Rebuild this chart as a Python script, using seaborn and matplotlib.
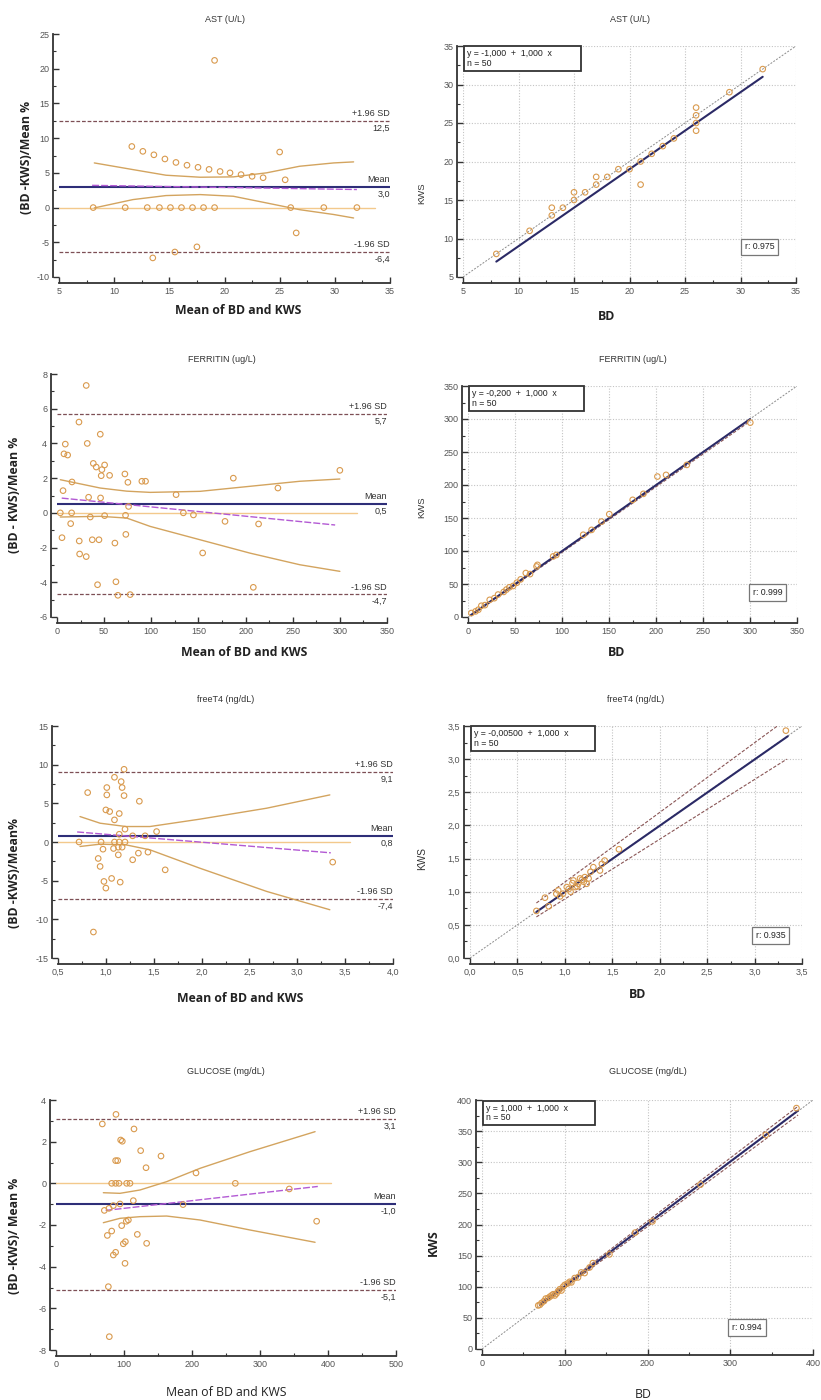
import matplotlib
matplotlib.use("Agg")
import matplotlib.pyplot as plt
import matplotlib.transforms as mtransforms
import seaborn as sns
from matplotlib.ticker import MultipleLocator, AutoMinorLocator, FuncFormatter

W, H = 821, 1400

# ---------------- AST ----------------
ast_ba_mean = [19.1, 11.6, 12.6, 13.6, 14.6, 15.6, 16.6, 17.6, 18.6, 19.6, 20.5, 21.5, 22.5, 23.5, 25.0, 25.5,
               8.1, 11.0, 13.0, 14.1, 15.1, 16.1, 17.1, 18.1, 19.1, 26.0, 29.0, 32.0,
               26.5, 17.5, 13.5, 15.5]
ast_ba_diff = [21.2, 8.8, 8.1, 7.6, 7.0, 6.5, 6.1, 5.8, 5.5, 5.2, 5.0, 4.75, 4.5, 4.3, 8.0, 4.0,
               0, 0, 0, 0, 0, 0, 0, 0, 0, 0, 0, 0,
               -3.65, -5.66, -7.25, -6.4]
ast_limits = [12.5, 3.0, -6.4]
ast_band_x = [8.2, 11.7, 14.7, 17.8, 20.8, 23.8, 26.8, 29.9, 31.7]
ast_band_hi = [6.43, 5.47, 4.66, 4.37, 4.42, 5.0, 5.95, 6.43, 6.58]
ast_band_lo = [-0.05, 1.15, 1.73, 1.87, 1.63, 0.67, -0.3, -1.0, -1.5]
ast_trend_x = [8.0, 32.0]
ast_trend_y = [3.2, 2.6]
ast_bd = [8, 11, 13, 13, 14, 15, 15, 16, 17, 17, 18, 19, 20, 21, 21, 22, 23, 24, 26, 26, 26, 26, 29, 32]
ast_kws = [8, 11, 14, 13, 14, 16, 15, 16, 18, 17, 18, 19, 19, 20, 17, 21, 22, 23, 27, 26, 25, 24, 29, 32]
ast_fit_x = [8, 32]
ast_fit_y = [7, 31]

# ---------------- FERRITIN ----------------
fer_ba_mean = [31, 23.3, 32.1, 45.9, 8.8, 7.4, 11.3, 38.5, 41.6, 50.5, 47.6, 46.9, 55.8, 72, 75.2,
               90, 93.9, 15.9, 6.4, 33.5, 46.2, 75.9, 126.3, 187, 234.3, 300, 3.5, 15.5, 35.3, 50.5,
               72.7, 134, 144.7, 178.2, 213.8, 14.5, 5.3, 23.6, 37.4, 44.5, 61.4, 73, 24, 31, 154.5,
               43, 62.5, 64.6, 77.6, 208.2]
fer_ba_diff = [7.34, 5.23, 4.0, 4.53, 3.96, 3.4, 3.33, 2.85, 2.64, 2.76, 2.49, 2.14, 2.16, 2.24, 1.76,
               1.82, 1.82, 1.78, 1.28, 0.9, 0.86, 0.37, 1.05, 2.0, 1.43, 2.45, 0, 0, -0.24, -0.16,
               -0.14, 0, -0.12, -0.49, -0.64, -0.62, -1.43, -1.62, -1.55, -1.55, -1.74, -1.24, -2.37, -2.52, -2.31,
               -4.14, -3.97, -4.75, -4.71, -4.29]
fer_limits = [5.7, 0.5, -4.7]
fer_band_x = [3.5, 45.9, 74.0, 98.8, 151.7, 204.7, 257.6, 300.0]
fer_band_hi = [1.91, 1.43, 1.25, 1.18, 1.24, 1.53, 1.82, 1.95]
fer_band_lo = [-0.24, -0.2, -0.3, -0.78, -1.55, -2.32, -2.99, -3.37]
fer_trend_x = [5.0, 295.0]
fer_trend_y = [0.85, -0.7]
fer_bd = [3.6, 8, 11, 14.2, 18, 23.1, 28, 32, 38, 40.9, 44, 48, 52, 56, 61.5,
          66, 72.9, 73.9, 90.6, 94, 122.6, 131.5, 142, 150.3, 175.2, 186.6, 201.5, 210.7, 232.8, 300.3]
fer_kws = [6, 8.5, 11, 17, 18, 26, 28.5, 34, 38, 41.6, 45, 47, 52, 57, 66.6,
           65, 76.6, 79, 91.8, 94, 124.6, 132, 144.6, 155.8, 177.5, 186.6, 212.8, 215.3, 230.5, 294.5]
fer_fit_x = [3, 300]
fer_fit_y = [2.8, 299.8]

# ---------------- freeT4 ----------------
t4_ba_mean = [0.81, 1.01, 1.01, 1.09, 1.16, 1.17, 1.19, 1.19, 1.35, 1.0, 1.04, 1.14, 1.09, 1.2, 1.53,
              1.14, 1.28, 1.41, 0.72, 0.95, 1.09, 1.14, 1.2, 0.97, 1.08, 1.13, 1.17, 1.34, 1.44, 0.92,
              1.13, 1.28, 0.94, 1.62, 3.37, 0.98, 1.06, 1.15, 1.0, 0.87]
t4_ba_diff = [6.39, 7.04, 6.09, 8.37, 7.81, 7.04, 9.4, 6.0, 5.27, 4.15, 3.94, 3.68, 2.86, 1.66, 1.35,
              1.0, 0.8, 0.8, 0, 0, 0, 0, 0, -0.93, -0.84, -0.67, -0.67, -1.44, -1.31, -2.13,
              -1.66, -2.3, -3.16, -3.6, -2.6, -5.1, -4.71, -5.19, -5.96, -11.64]
t4_limits = [9.1, 0.8, -7.4]
t4_band_x = [0.73, 0.94, 1.21, 1.46, 1.98, 2.68, 3.34]
t4_band_hi = [3.29, 2.43, 2.0, 2.0, 2.95, 4.37, 6.09]
t4_band_lo = [-0.58, -0.28, -0.37, -1.01, -3.38, -6.39, -8.76]
t4_trend_x = [0.7, 3.35]
t4_trend_y = [1.3, -1.4]
t4_bd = [0.70, 0.79, 0.83, 0.91, 0.93, 0.95, 0.98, 1.02, 1.04, 1.06, 1.08, 1.09, 1.11, 1.13, 1.14,
         1.16, 1.18, 1.20, 1.21, 1.23, 1.25, 1.27, 1.30, 1.37, 1.39, 1.42, 1.57, 3.33]
t4_kws = [0.71, 0.91, 0.78, 0.97, 1.02, 0.93, 0.97, 1.07, 1.04, 1.00, 1.13, 1.17, 1.07, 1.08, 1.12,
          1.20, 1.18, 1.15, 1.22, 1.12, 1.20, 1.30, 1.37, 1.32, 1.42, 1.47, 1.64, 3.43]
t4_fit_x = [0.7, 3.35]
t4_fit_y = [0.695, 3.345]
t4_ci_hi_x = [0.7, 3.24]
t4_ci_hi_y = [0.83, 3.5]
t4_ci_lo_x = [0.7, 3.34]
t4_ci_lo_y = [0.62, 3.0]

# ---------------- GLUCOSE ----------------
glu_ba_mean = [88.2, 68.1, 114.7, 95.1, 97.5, 124.5, 154.4, 87.7, 90.7, 132.4, 205.9, 81.9, 87.7, 92.6, 103.9,
               108.8, 263.7, 343.1, 113.7, 186.8, 94.1, 84.3, 77.9, 71.1, 106.4, 103.4, 383.3, 96.6, 81.9, 75.5,
               119.6, 102, 99, 133.3, 87.7, 84.3, 101.5, 77, 78.4]
glu_ba_diff = [3.31, 2.85, 2.61, 2.08, 2.02, 1.57, 1.31, 1.09, 1.09, 0.75, 0.5, 0, 0, 0, 0,
               0, 0, -0.27, -0.83, -1.02, -0.99, -1.07, -1.2, -1.3, -1.76, -1.82, -1.82, -2.03, -2.29, -2.5,
               -2.45, -2.8, -2.9, -2.88, -3.31, -3.44, -3.84, -4.96, -7.36]
glu_limits = [3.1, -1.0, -5.1]
glu_band_x = [69.6, 94.0, 123.5, 162.7, 211.8, 285.3, 381.0]
glu_band_hi = [-0.45, -0.48, -0.32, 0.08, 0.72, 1.52, 2.48]
glu_band_lo = [-1.89, -1.68, -1.6, -1.57, -1.76, -2.24, -2.83]
glu_trend_x = [73, 385]
glu_trend_y = [-1.3, -0.15]
glu_bd = [68, 70, 72, 75, 77, 80, 82, 84, 86, 88, 90, 92, 94, 96, 98, 100, 103, 106, 108, 112,
          116, 120, 124, 130, 134, 154, 185, 206, 264, 343, 380]
glu_kws = [70, 71, 74, 77, 81, 82, 84, 86, 88, 86, 89, 93, 96, 94, 100, 103, 105, 108, 107, 114,
           115, 123, 122, 131, 138, 152, 187, 205, 264, 344, 387]
glu_fit_x = [70, 382]
glu_fit_y = [71, 383]

sns.set_style("ticks")
plt.rcParams["font.family"] = ["Liberation Sans", "DejaVu Sans"]

POINT = "#d99a4e"
SD_C = "#7d4f55"
MEAN_C = "#2e2e78"
TREND_C = "#b35ad4"
BAND_C = "#d3a45f"
ZERO_C = "#f3c98c"
IDENT_C = "#8c8c8c"
FIT_C = "#2b2a66"
CI_C = "#8a5656"
TXT = "#333333"

comma1 = FuncFormatter(lambda v, p: f"{v:.1f}".replace(".", ","))
intfmt = FuncFormatter(lambda v, p: f"{v:.0f}")


def place(fig, x0, x1, ytop, ybot):
    ax = fig.add_axes([x0 / W, 1 - ybot / H, (x1 - x0) / W, (ybot - ytop) / H])
    return ax, (ytop, ybot)


def style_axes(ax, xlim, ylim, xstep, ystep, xfmt, yfmt):
    ax.set_xlim(*xlim)
    ax.set_ylim(*ylim)
    ax.xaxis.set_major_locator(MultipleLocator(xstep))
    ax.yaxis.set_major_locator(MultipleLocator(ystep))
    ax.xaxis.set_minor_locator(AutoMinorLocator(2))
    ax.yaxis.set_minor_locator(AutoMinorLocator(2))
    ax.xaxis.set_major_formatter(xfmt)
    ax.yaxis.set_major_formatter(yfmt)
    ax.tick_params(which="major", direction="in", length=4, width=1, color="#333333",
                   labelsize=6.5, labelcolor="#555555", pad=3)
    ax.tick_params(which="minor", direction="in", length=2, width=0.8, color="#333333")
    sns.despine(ax=ax, offset=4)
    for s in ("left", "bottom"):
        ax.spines[s].set_color("#333333")
        ax.spines[s].set_linewidth(1.3)


def add_texts(fig, ax, box, title, title_y, xlabel, xpos, xkw, ylabel, ypos, ykw):
    ytop, ybot = box
    ax.set_title(title, fontsize=6.5, color=TXT, pad=0, va="center",
                 y=1 + (ytop - title_y) / (ybot - ytop))
    ax.set_xlabel(xlabel, **xkw)
    ax.xaxis.set_label_coords(xpos[0] / W, 1 - xpos[1] / H, transform=fig.transFigure)
    ax.xaxis.label.set_va("center")
    ax.set_ylabel(ylabel, **ykw)
    ax.yaxis.set_label_coords(ypos[0] / W, 1 - ypos[1] / H, transform=fig.transFigure)
    ax.yaxis.label.set_va("center")
    ax.yaxis.label.set_ha("center")


def draw_ba(ax, mean_x, diff_y, limits, band_x, band_hi, band_lo, trend_x, trend_y, zero_end):
    hi, mean, lo = limits
    x0 = ax.get_xlim()[0]
    ax.plot([x0, zero_end], [0, 0], color=ZERO_C, lw=1.0, zorder=1)
    ax.axhline(hi, color=SD_C, ls=(0, (3, 1.5)), lw=0.9, zorder=2)
    ax.axhline(lo, color=SD_C, ls=(0, (3, 1.5)), lw=0.9, zorder=2)
    ax.axhline(mean, color=MEAN_C, lw=1.5, zorder=3)
    sns.lineplot(x=band_x, y=band_hi, ax=ax, color=BAND_C, lw=1.0, sort=False, estimator=None, zorder=3)
    sns.lineplot(x=band_x, y=band_lo, ax=ax, color=BAND_C, lw=1.0, sort=False, estimator=None, zorder=3)
    sns.lineplot(x=trend_x, y=trend_y, ax=ax, color=TREND_C, lw=1.0, ls=(0, (5, 1.5)),
                 sort=False, estimator=None, zorder=4)
    sns.scatterplot(x=mean_x, y=diff_y, ax=ax, s=16, marker="o", facecolors="none",
                    edgecolors=POINT, linewidths=0.8, zorder=5)
    trans = mtransforms.blended_transform_factory(ax.transAxes, ax.transData)
    labels = [("+1.96 SD", hi), ("Mean", mean), ("-1.96 SD", lo)]
    for name, val in labels:
        ax.annotate(name, xy=(1.0, val), xycoords=trans, xytext=(0, 2), textcoords="offset points",
                    ha="right", va="bottom", fontsize=6.5, color=TXT)
        ax.annotate(f"{val:.1f}".replace(".", ","), xy=(1.0, val), xycoords=trans, xytext=(0, -2),
                    textcoords="offset points", ha="right", va="top", fontsize=6.5, color=TXT)


def draw_pb(ax, bd, kws, ident, fit_x, fit_y, ci, eq, r_text, r_pos):
    ax.set_axisbelow(True)
    ax.grid(True, which="major", color="#c4c4c4", ls=(0, (1, 1.5)), lw=0.8)
    ax.plot(ident, ident, color=IDENT_C, ls=(0, (2, 1.5)), lw=0.7, zorder=2)
    for cx, cy in ci:
        ax.plot(cx, cy, color=CI_C, ls=(0, (3, 1.5)), lw=0.8, zorder=3)
    sns.lineplot(x=fit_x, y=fit_y, ax=ax, color=FIT_C, lw=1.5, sort=False, estimator=None, zorder=4)
    sns.scatterplot(x=bd, y=kws, ax=ax, s=16, marker="o", facecolors="none",
                    edgecolors=POINT, linewidths=0.8, zorder=5)
    ax.text(0.012, 0.985, eq, transform=ax.transAxes, ha="left", va="top", fontsize=6.3,
            color="#222222", linespacing=1.1,
            bbox=dict(boxstyle="square,pad=0.35", fc="white", ec="#333333", lw=1.3))
    ax.text(r_pos[0], r_pos[1], r_text, transform=ax.transAxes, ha="center", va="center",
            fontsize=6.3, color="#222222",
            bbox=dict(boxstyle="square,pad=0.45", fc="white", ec="#777777", lw=0.9))


fig = plt.figure(figsize=(W / 100, H / 100), dpi=100)

BOLD = dict(fontsize=8.8, fontweight="bold", color="#222222", family=["Open Sans", "DejaVu Sans"])
PLAIN = dict(fontsize=8.8, color="#222222", family=["Open Sans", "DejaVu Sans"])
SMALL = dict(fontsize=6.8, color="#333333")
XL = "Mean of BD and KWS"

# ---- row 1: AST ----
ax, box = place(fig, 59, 390, 34, 277)
style_axes(ax, (5, 35), (-10, 25), 5, 5, intfmt, intfmt)
draw_ba(ax, ast_ba_mean, ast_ba_diff, ast_limits, ast_band_x, ast_band_hi, ast_band_lo,
        ast_trend_x, ast_trend_y, 33.6)
add_texts(fig, ax, box, "AST (U/L)", 19, XL, (238, 311), BOLD, "(BD -KWS)/Mean %", (27, 157), BOLD)

ax, box = place(fig, 463, 796, 46, 277)
style_axes(ax, (5, 35), (5, 35), 5, 5, intfmt, intfmt)
draw_pb(ax, ast_bd, ast_kws, [5, 35], ast_fit_x, ast_fit_y, [],
        "y = -1,000  +  1,000  x           \nn = 50", "r: 0.975", (0.89, 0.13))
add_texts(fig, ax, box, "AST (U/L)", 19, "BD", (607, 317), BOLD, "KWS", (422, 193), SMALL)

# ---- row 2: FERRITIN ----
ax, box = place(fig, 57, 387, 374, 617)
style_axes(ax, (0, 350), (-6, 8), 50, 2, intfmt, intfmt)
draw_ba(ax, fer_ba_mean, fer_ba_diff, fer_limits, fer_band_x, fer_band_hi, fer_band_lo,
        fer_trend_x, fer_trend_y, 318)
add_texts(fig, ax, box, "FERRITIN (ug/L)", 359, XL, (244, 653), BOLD, "(BD - KWS)/Mean %", (15, 495), BOLD)

ax, box = place(fig, 468, 797, 386, 617)
style_axes(ax, (0, 350), (0, 350), 50, 50, intfmt, intfmt)
draw_pb(ax, fer_bd, fer_kws, [0, 350], fer_fit_x, fer_fit_y,
        [([3, 300], [1.5, 296.5])],
        "y = -0,200  +  1,000  x          \nn = 50", "r: 0.999", (0.91, 0.105))
add_texts(fig, ax, box, "FERRITIN (ug/L)", 359, "BD", (617, 653), BOLD, "KWS", (422, 507), SMALL)

# ---- row 3: freeT4 ----
ax, box = place(fig, 58, 393, 726, 958)
style_axes(ax, (0.5, 4.0), (-15, 15), 0.5, 5, comma1, intfmt)
draw_ba(ax, t4_ba_mean, t4_ba_diff, t4_limits, t4_band_x, t4_band_hi, t4_band_lo,
        t4_trend_x, t4_trend_y, 3.55)
add_texts(fig, ax, box, "freeT4 (ng/dL)", 699, XL, (240, 998), BOLD, "(BD -KWS)/Mean%", (15, 873), BOLD)

ax, box = place(fig, 470, 802, 726, 958)
style_axes(ax, (0, 3.5), (0, 3.5), 0.5, 0.5, comma1, comma1)
draw_pb(ax, t4_bd, t4_kws, [0, 3.5], t4_fit_x, t4_fit_y,
        [(t4_ci_hi_x, t4_ci_hi_y), (t4_ci_lo_x, t4_ci_lo_y)],
        "y = -0,00500  +  1,000  x          \nn = 50", "r: 0.935", (0.905, 0.097))
add_texts(fig, ax, box, "freeT4 (ng/dL)", 699, "BD", (638, 995), BOLD, "KWS",
          (422, 858), dict(fontsize=7.3, color="#333333"))

# ---- row 4: GLUCOSE ----
ax, box = place(fig, 56, 396, 1100, 1350)
style_axes(ax, (0, 500), (-8, 4), 100, 2, intfmt, intfmt)
draw_ba(ax, glu_ba_mean, glu_ba_diff, glu_limits, glu_band_x, glu_band_hi, glu_band_lo,
        glu_trend_x, glu_trend_y, 405)
add_texts(fig, ax, box, "GLUCOSE (mg/dL)", 1072, XL, (226, 1393), PLAIN, "(BD -KWS)/ Mean %", (15, 1236), BOLD)

ax, box = place(fig, 482, 813, 1100, 1349)
style_axes(ax, (0, 400), (0, 400), 100, 50, intfmt, intfmt)
draw_pb(ax, glu_bd, glu_kws, [0, 400], glu_fit_x, glu_fit_y,
        [([70, 382], [68.5, 376]), ([70, 382], [73.5, 390])],
        "y = 1,000  +  1,000  x          \nn = 50", "r: 0.994", (0.80, 0.088))
add_texts(fig, ax, box, "GLUCOSE (mg/dL)", 1072, "BD", (643, 1394), PLAIN, "KWS", (433, 1243), BOLD)

fig.savefig("out.png", dpi=100)
